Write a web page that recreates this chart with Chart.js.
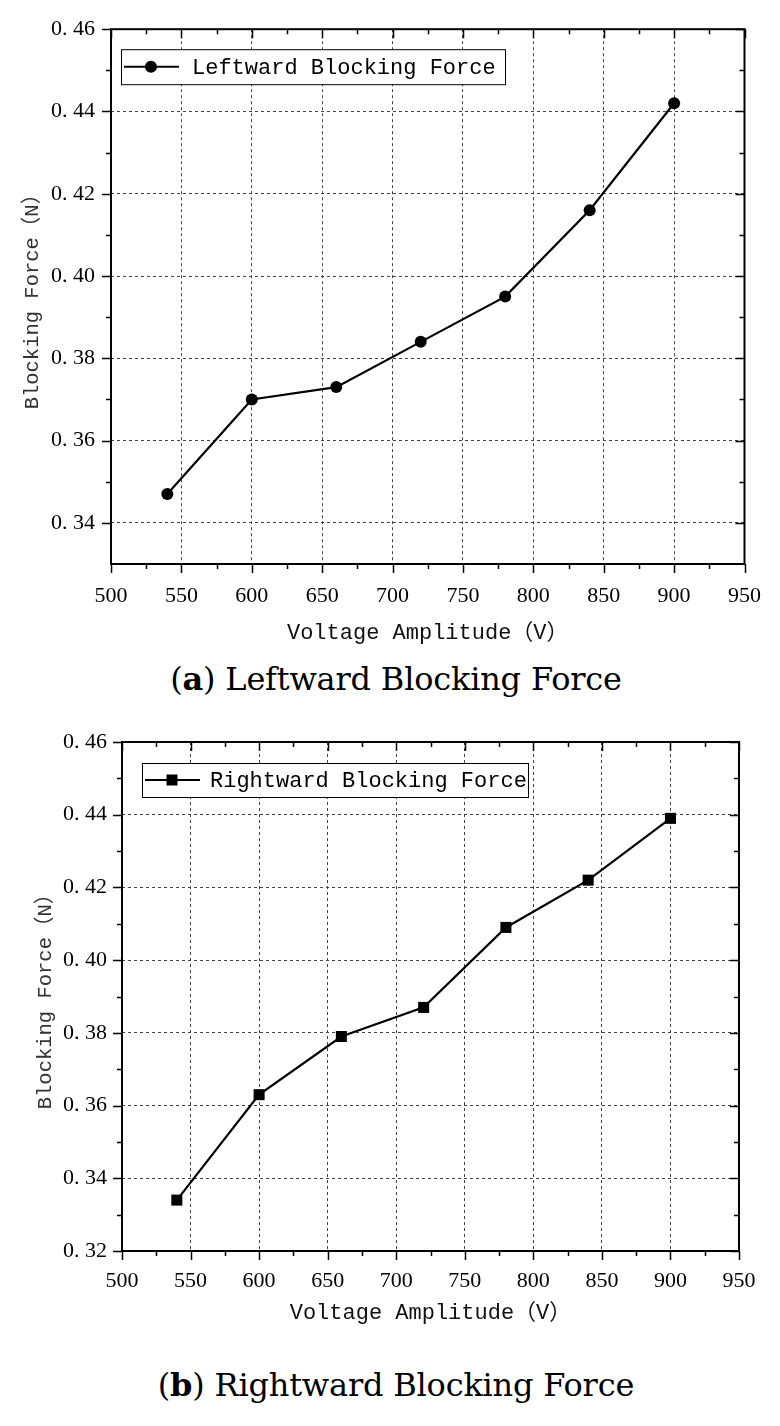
<!DOCTYPE html>
<html>
<head>
<meta charset="utf-8">
<script src="https://cdn.jsdelivr.net/npm/chart.js@4/dist/chart.umd.min.js"></script>
<style>
  body { margin: 0; background: #fff; }
  #wrap { position: relative; width: 780px; height: 1426px; }
  canvas { position: absolute; left: 0; }
  .caption {
    position: absolute; left: 6px; width: 780px; text-align: center;
    font-family: "DejaVu Serif", serif; font-size: 32px; line-height: 32px; color: #000;
    letter-spacing: -0.2px;
  }
</style>
</head>
<body>
<div id="wrap">
  <canvas id="chartA" width="780" height="650" style="top:0"></canvas>
  <div class="caption" style="top:663px">(<b>a</b>) Leftward Blocking Force</div>
  <canvas id="chartB" width="780" height="640" style="top:700px"></canvas>
  <div class="caption" style="top:1369px">(<b>b</b>) Rightward Blocking Force</div>
</div>
<script>
// data
const voltages = [540, 600, 660, 720, 780, 840, 900];
const leftwardForce = [0.347, 0.370, 0.373, 0.384, 0.395, 0.416, 0.442];
const rightwardForce = [0.334, 0.363, 0.379, 0.387, 0.409, 0.422, 0.439];
const xTicks = [500, 550, 600, 650, 700, 750, 800, 850, 900, 950];
const yTicksA = [0.34, 0.36, 0.38, 0.40, 0.42, 0.44, 0.46];
const yTicksB = [0.32, 0.34, 0.36, 0.38, 0.40, 0.42, 0.44, 0.46];

const monoFont = '"Liberation Mono", "Noto Sans CJK SC", monospace';
const tickFont = { family: '"Liberation Serif", serif', size: 22 };

// midpoints between major ticks
const minors = arr => arr.slice(1).map((v, i) => (v + arr[i]) / 2);

// frame with Origin style ticks + boxed legend
const framePlugin = {
  id: 'frame',
  afterDraw(chart, args, opts) {
    const { ctx, chartArea: a, scales: { x, y } } = chart;
    ctx.save();
    ctx.strokeStyle = '#000';
    ctx.lineWidth = 1.5;
    const xs = x.ticks.map(t => t.value);
    const ys = y.ticks.map(t => t.value);
    const tickX = (vals, len) => vals.forEach(v => {
      const px = Math.round(x.getPixelForValue(v)) + 0.5;
      ctx.beginPath();
      ctx.moveTo(px, a.bottom); ctx.lineTo(px, a.bottom + len);
      ctx.moveTo(px, a.top); ctx.lineTo(px, a.top + len);
      ctx.stroke();
    });
    const tickY = (vals, len) => vals.forEach(v => {
      const py = Math.round(y.getPixelForValue(v)) + 0.5;
      ctx.beginPath();
      ctx.moveTo(a.left, py); ctx.lineTo(a.left - len, py);
      ctx.moveTo(a.right, py); ctx.lineTo(a.right - len, py);
      ctx.stroke();
    });
    tickX(xs, 9); tickX(minors(xs), 5);
    tickY(ys, 9); tickY(minors(ys).concat([y.min + 0.01].filter(v => v < ys[0])), 5);

    ctx.lineWidth = 2;
    ctx.strokeRect(a.left, a.top, a.right - a.left, a.bottom - a.top);

    // legend
    const ds = chart.data.datasets[0];
    const bx = a.left + opts.x, by = a.top + opts.y;
    ctx.fillStyle = '#fff';
    ctx.fillRect(bx, by, opts.w, opts.h);
    ctx.lineWidth = 1;
    ctx.strokeRect(bx + 0.5, by + 0.5, opts.w, opts.h);
    const my = by + opts.h / 2;
    ctx.lineWidth = 2;
    ctx.beginPath();
    ctx.moveTo(bx + 3, my); ctx.lineTo(bx + 58, my);
    ctx.stroke();
    ctx.fillStyle = '#000';
    const mx = bx + 30;
    if (ds.pointStyle === 'rect') {
      ctx.fillRect(mx - 5.5, my - 5.5, 11, 11);
    } else {
      ctx.beginPath(); ctx.arc(mx, my, 6, 0, Math.PI * 2); ctx.fill();
    }
    ctx.font = '22px ' + monoFont;
    ctx.textBaseline = 'middle';
    ctx.fillText(ds.label, bx + opts.textX, my + 1);
    ctx.restore();
  }
};

function makeChart(id, label, values, pointStyle, pointRadius, yTicks, yMin, geo) {
  return new Chart(document.getElementById(id), {
    type: 'line',
    data: {
      datasets: [{
        label: label,
        data: voltages.map((v, i) => ({ x: v, y: values[i] })),
        borderColor: '#000',
        backgroundColor: '#000',
        borderWidth: 2.2,
        pointStyle: pointStyle,
        pointRadius: pointRadius,
        pointBorderWidth: 0,
        tension: 0
      }]
    },
    options: {
      responsive: false,
      animation: false,
      layout: { padding: { left: 0, right: geo.right, top: geo.top, bottom: 0 } },
      plugins: {
        legend: { display: false },
        tooltip: { enabled: false },
        frame: geo.legend
      },
      scales: {
        x: {
          type: 'linear',
          min: 500, max: 950,
          afterBuildTicks: s => { s.ticks = xTicks.map(v => ({ value: v })); },
          afterFit: s => { s.height = geo.xHeight; },
          ticks: { font: tickFont, color: '#000', padding: geo.xPad, maxRotation: 0 },
          grid: { drawTicks: false, color: '#444', lineWidth: 1 },
          border: { display: false, dash: [3, 3] },
          title: {
            display: true, text: 'Voltage Amplitude（V）', color: '#111',
            font: { family: monoFont, size: 22 }, padding: { top: 0, bottom: geo.xTitlePad }
          }
        },
        y: {
          type: 'linear',
          min: yMin, max: 0.46,
          afterBuildTicks: s => { s.ticks = yTicks.map(v => ({ value: v })); },
          afterFit: s => { s.width = geo.yWidth; },
          ticks: { font: tickFont, color: '#000', padding: geo.yPad, callback: v => v.toFixed(2).replace('.', '. ') },
          grid: { drawTicks: false, color: '#444', lineWidth: 1 },
          border: { display: false, dash: [3, 3] },
          title: {
            display: true, text: 'Blocking Force（N）', color: '#333',
            font: { family: monoFont, size: 20.5 }, padding: { top: geo.yTitlePad, bottom: 0 }
          }
        }
      }
    },
    plugins: [framePlugin]
  });
}

makeChart('chartA', 'Leftward Blocking Force', leftwardForce, 'circle', 6, yTicksA, 0.33, {
  right: 30, top: 25, xHeight: 86, yWidth: 111, xPad: 19, yPad: 16, xTitlePad: 4, yTitlePad: 20,
  legend: { x: 10, y: 20, w: 384, h: 35, textX: 71 }
});

makeChart('chartB', 'Rightward Blocking Force', rightwardForce, 'rect', 7.8, yTicksB, 0.32, {
  right: 41, top: 42, xHeight: 89, yWidth: 122, xPad: 17, yPad: 15, xTitlePad: 14, yTitlePad: 33,
  legend: { x: 20, y: 21, w: 386, h: 34, textX: 68 }
});
</script>
</body>
</html>
